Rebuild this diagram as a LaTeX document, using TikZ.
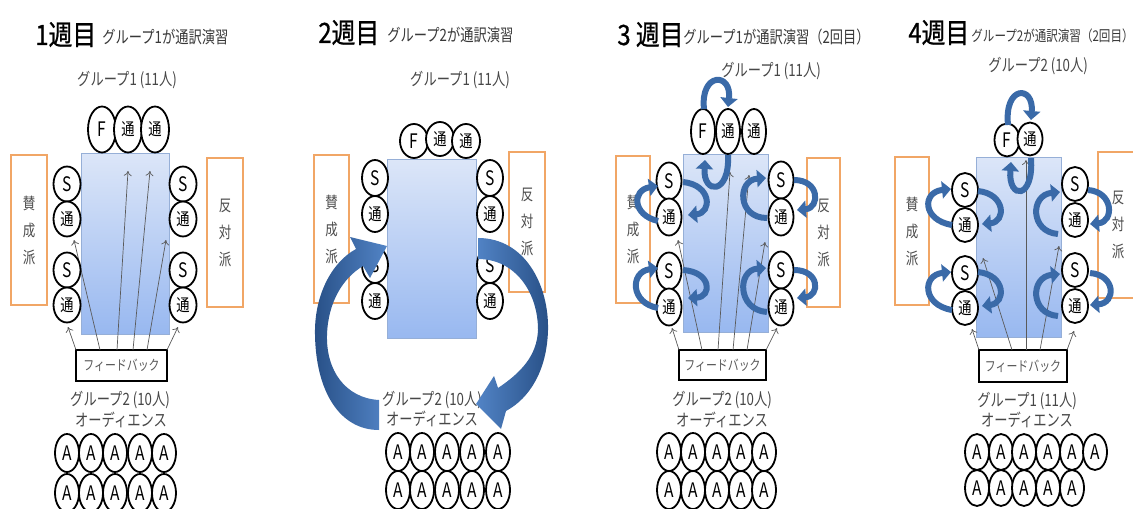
\documentclass[tikz,border=0pt]{standalone}
\usepackage{fontspec}
\usetikzlibrary{arrows.meta,shapes.geometric}
\newfontfamily\jpT[FakeStretch=0.85,FakeBold=0.8]{Noto Sans CJK JP}
\newfontfamily\jp[FakeStretch=0.78]{Noto Sans CJK JP}
\definecolor{rtop}{RGB}{220,230,248}
\definecolor{rbot}{RGB}{152,184,240}
\definecolor{redge}{RGB}{150,175,215}
\definecolor{orng}{RGB}{241,166,102}
\definecolor{ablue}{RGB}{58,106,168}
\definecolor{adark}{RGB}{40,80,135}
\definecolor{alight}{RGB}{82,132,198}
\definecolor{thinc}{RGB}{90,90,90}
\begin{document}
\begin{tikzpicture}[x=0.5pt,y=-0.5pt,
 pc/.style={draw, ellipse, line width=0.9pt, fill=white, inner sep=0pt, font=\jp\fontsize{8.5}{10}\selectfont},
 lt/.style={font=\jp\fontsize{10}{10}\selectfont},
 obox/.style={draw=orng, line width=0.9pt, fill=white, inner sep=0pt, align=center, font=\jp\fontsize{8}{13.5}\selectfont, text=black!70},
 rbox/.style={draw=redge, line width=0.4pt, top color=rtop, bottom color=rbot, inner sep=0pt},
 fbox/.style={draw, line width=1pt, fill=white, inner sep=0pt, font=\jp\fontsize{7}{8}\selectfont, text=black!65},
 lbl/.style={font=\jp\fontsize{8.5}{10}\selectfont, text=black!72, inner sep=0pt},
 ttl/.style={font=\jpT\fontsize{14}{16}\selectfont, anchor=base west, inner sep=0pt},
 sttl/.style={font=\jp\fontsize{8.5}{10}\selectfont, text=black!78, anchor=base west, inner sep=0pt},
 tarr/.style={draw=thinc, line width=0.35pt, -{To[length=2.5pt,width=4pt]}},
 sarr/.style={draw=ablue, line width=3pt, -{Triangle[length=4.5pt,width=8.5pt]}},
 ta/.style={pc, minimum width=14pt, minimum height=23pt},
 sa/.style={pc, minimum width=13.5pt, minimum height=17.5pt},
 tb/.style={pc, minimum width=14pt, minimum height=17pt},
 sb/.style={pc, minimum width=13pt, minimum height=18pt},
 tc/.style={pc, minimum width=12pt, minimum height=22.5pt},
 sc/.style={pc, minimum width=12.5pt, minimum height=18.5pt},
 td/.style={pc, minimum width=12.5pt, minimum height=16.5pt},
 sd/.style={pc, minimum width=13pt, minimum height=17pt},
 ac/.style={pc, lt, minimum width=12pt, minimum height=19pt},
 ad/.style={pc, lt, minimum width=12pt, minimum height=18pt},
]
\useasboundingbox (0,0) rectangle (1133,508);
\fill[white] (0,0) rectangle (1133,508);

% ---------- titles ----------
\node[ttl] (t1) at (35,45) {1週目};
\node[sttl] (s1) at (102,44) {グループ1が通訳演習};
\node[ttl] (t2) at (318,43) {2週目};
\node[sttl] (s2) at (387,42) {グループ2が通訳演習};
\node[ttl] (t3) at (617,45) {3 週目};
\node[sttl] (s3) at (683,44) {グループ1が通訳演習（2回目）};
\node[ttl] (t4) at (908,43) {4週目};
\node[sttl, font=\jp\fontsize{7.4}{9}\selectfont] (s4) at (971,42) {グループ2が通訳演習（2回目）};

% ================= PANEL 1 =================
\node[rbox, minimum width=44pt, minimum height=90.5pt] (p1R) at (125,243.5) {};
\node[lbl] (p1g1) at (127,80) {グループ1 (11人)};
\node[obox, minimum width=18pt, minimum height=75pt] (p1OL) at (29,230) {賛\\成\\派};
\node[obox, minimum width=18pt, minimum height=74.5pt] (p1OR) at (225,232.5) {反\\対\\派};
\node[fbox, minimum width=45.5pt, minimum height=15.5pt] (p1FB) at (121.5,365.5) {フィードバック};
\coordinate (p1f0) at (76,350); \coordinate (p1f1) at (100,350); \coordinate (p1f2) at (117,350);
\coordinate (p1f3) at (133,350); \coordinate (p1f4) at (147,350); \coordinate (p1f5) at (167,350);
\coordinate (p1h0) at (68,327); \coordinate (p1h1) at (74,240); \coordinate (p1h2) at (128,171);
\coordinate (p1h3) at (150,171); \coordinate (p1h4) at (166,240); \coordinate (p1h5) at (178,327);
\foreach \i in {0,...,5} {\draw[tarr] (p1f\i) -- (p1h\i);}
\node[ta,lt] (p1F) at (102,129.5) {F};
\node[ta] (p1T1) at (128,129.5) {通};
\node[ta] (p1T2) at (155,129.5) {通};
\node[sa,lt] (p1LS1) at (67,184) {S};
\node[sa] (p1LT1) at (67,219) {通};
\node[sa,lt] (p1LS2) at (67,270) {S};
\node[sa] (p1LT2) at (67,305) {通};
\node[sa,lt] (p1RS1) at (183,184) {S};
\node[sa] (p1RT1) at (183,219) {通};
\node[sa,lt] (p1RS2) at (183,270) {S};
\node[sa] (p1RT2) at (183,305) {通};
\node[lbl] (p1g2) at (120,400) {グループ2 (10人)};
\node[lbl] (p1au) at (121,420) {オーディエンス};
\foreach \i/\x in {1/67,2/91,3/115,4/140,5/164} {
  \node[ac] (p1A\i) at (\x,453) {A};
  \node[ac] (p1B\i) at (\x,493) {A};
}

% ================= PANEL 2 =================
\node[rbox, minimum width=44.5pt, minimum height=89.5pt] (p2R) at (431.5,248.5) {};
\node[lbl] (p2g1) at (460,80) {グループ1 (11人)};
\node[obox, minimum width=17.5pt, minimum height=74pt] (p2OL) at (331.5,229) {賛\\成\\派};
\node[obox, minimum width=18pt, minimum height=70pt] (p2OR) at (527,222) {反\\対\\派};
\node[tb,lt] (p2F) at (414,141) {F};
\node[tb] (p2T1) at (440,139) {通};
\node[tb] (p2T2) at (466,141) {通};
\node[sb,lt] (p2LS1) at (375,178) {S};
\node[sb] (p2LT1) at (375,214) {通};
\node[sb,lt] (p2LS2) at (375,265) {S};
\node[sb] (p2LT2) at (375,301) {通};
\node[sb,lt] (p2RS1) at (490,178) {S};
\node[sb] (p2RT1) at (490,214) {通};
\node[sb,lt] (p2RS2) at (490,265) {S};
\node[sb] (p2RT2) at (490,301) {通};
\node[lbl] (p2g2) at (432,400) {グループ2 (10人)};
\node[lbl] (p2au) at (432,419) {オーディエンス};
\foreach \i/\x in {1/398,2/422,3/447,4/472,5/498} {
  \node[ac] (p2A\i) at (\x,452) {A};
  \node[ac] (p2B\i) at (\x,490) {A};
}
% big curved arrows
\shade[left color=adark, right color=alight]
  (379,400) .. controls (345,398) and (326,370) .. (327,335)
  .. controls (328,302) and (343,278) .. (363,266)
  -- (370,278) -- (387,246) -- (350,237) -- (356,249)
  .. controls (332,262) and (314,295) .. (315,335)
  .. controls (316,392) and (340,430) .. (379,430) -- cycle;
\shade[left color=alight, right color=adark]
  (478,238) .. controls (525,238) and (549,285) .. (548,330)
  .. controls (547,370) and (530,398) .. (506,411)
  -- (501,429) -- (476,404) -- (494,376) -- (498,388)
  .. controls (522,372) and (537,355) .. (538,330)
  .. controls (538,292) and (515,259) .. (478,259) -- cycle;

% ================= PANEL 3 =================
\node[rbox, minimum width=42.5pt, minimum height=89pt] (p3R) at (725.5,243) {};
\node[lbl] (p3g1) at (771,71) {グループ1 (11人)};
\node[obox, minimum width=17pt, minimum height=73.5pt] (p3OL) at (633,229.5) {賛\\成\\派};
\node[obox, minimum width=16.5pt, minimum height=74.5pt] (p3OR) at (823.5,232.5) {反\\対\\派};
\node[fbox, minimum width=43.5pt, minimum height=15pt] (p3FB) at (722.5,365) {フィードバック};
\coordinate (p3f0) at (679,350); \coordinate (p3f1) at (702,350); \coordinate (p3f2) at (718,350);
\coordinate (p3f3) at (733,350); \coordinate (p3f4) at (747,350); \coordinate (p3f5) at (766,350);
\coordinate (p3h0) at (672,328); \coordinate (p3h1) at (678,240); \coordinate (p3h2) at (730,172);
\coordinate (p3h3) at (749,175); \coordinate (p3h4) at (765,242); \coordinate (p3h5) at (777,328);
\foreach \i in {0,...,5} {\draw[tarr] (p3f\i) -- (p3h\i);}
\node[tc,lt] (p3F) at (703,131.5) {F};
\node[tc] (p3T1) at (728,131.5) {通};
\node[tc] (p3T2) at (754,131.5) {通};
\node[sc,lt] (p3LS1) at (669,181) {S};
\node[sc] (p3LT1) at (669,217) {通};
\node[sc,lt] (p3LS2) at (669,271) {S};
\node[sc] (p3LT2) at (669,307) {通};
\node[sc,lt] (p3RS1) at (781,180) {S};
\node[sc] (p3RT1) at (781,217) {通};
\node[sc,lt] (p3RS2) at (781,270) {S};
\node[sc] (p3RT2) at (781,307) {通};
\node[lbl] (p3g2) at (722,400) {グループ2 (10人)};
\node[lbl] (p3au) at (722,420) {オーディエンス};
\foreach \i/\x in {1/669,2/693,3/717,4/741,5/764} {
  \node[ac] (p3A\i) at (\x,452) {A};
  \node[ac] (p3B\i) at (\x,490) {A};
}
\draw[sarr] (p3F.north) ++(1,1) .. controls (700,72) and (732,72) .. (728,107);
\draw[sarr] (728,155) .. controls (730,195) and (703,195) .. (705,160);
\draw[sarr] (658,221) .. controls (632,215) and (632,190) .. (658,186);
\draw[sarr] (683,182) .. controls (712,185) and (712,213) .. (688,215);
\draw[sarr] (767,218) .. controls (737,218) and (737,180) .. (766,178);
\draw[sarr] (794,180) .. controls (820,180) and (820,208) .. (797,210);
\draw[sarr] (658,308) .. controls (630,303) and (630,272) .. (658,268);
\draw[sarr] (683,270) .. controls (712,272) and (712,297) .. (688,298);
\draw[sarr] (767,312) .. controls (737,310) and (737,270) .. (766,268);
\draw[sarr] (794,270) .. controls (820,270) and (820,296) .. (797,298);

% ================= PANEL 4 =================
\node[rbox, minimum width=42.5pt, minimum height=90pt] (p4R) at (1018.5,247) {};
\node[lbl] (p4g1) at (1038,66) {グループ2 (10人)};
\node[obox, minimum width=17pt, minimum height=74pt] (p4OL) at (912,231) {賛\\成\\派};
\node[obox, minimum width=20pt, minimum height=73pt] (p4OR) at (1118,225) {反\\対\\派};
\node[fbox, minimum width=44pt, minimum height=16pt] (p4FB) at (1023,366) {フィードバック};
\coordinate (p4f0) at (979,350); \coordinate (p4f1) at (1012,350); \coordinate (p4f2) at (1026,350);
\coordinate (p4f3) at (1040,350); \coordinate (p4f4) at (1067,350);
\coordinate (p4h0) at (972,329); \coordinate (p4h1) at (983,258); \coordinate (p4h2) at (1026,160);
\coordinate (p4h3) at (1059,246); \coordinate (p4h4) at (1074,331);
\foreach \i in {0,...,4} {\draw[tarr] (p4f\i) -- (p4h\i);}
\node[td,lt] (p4F) at (1007,140) {F};
\node[td] (p4T1) at (1030,139) {通};
\node[sd,lt] (p4LS1) at (965,190) {S};
\node[sd] (p4LT1) at (965,225) {通};
\node[sd,lt] (p4LS2) at (965,273) {S};
\node[sd] (p4LT2) at (965,308) {通};
\node[sd,lt] (p4RS1) at (1075,184) {S};
\node[sd] (p4RT1) at (1075,220) {通};
\node[sd,lt] (p4RS2) at (1075,270) {S};
\node[sd] (p4RT2) at (1075,306) {通};
\node[lbl] (p4g2) at (1027,401) {グループ1 (11人)};
\node[lbl] (p4au) at (1027,420) {オーディエンス};
\foreach \i/\x in {1/977,2/1001,3/1024,4/1048,5/1072,6/1095} {
  \node[ad] (p4A\i) at (\x,452) {A};
}
\foreach \i/\x in {1/977,2/1001,3/1024,4/1048,5/1072} {
  \node[ad] (p4B\i) at (\x,488) {A};
}
\draw[sarr] (1008,125) .. controls (1004,85) and (1034,85) .. (1031,120);
\draw[sarr] (1031,158) .. controls (1034,200) and (1008,200) .. (1011,162);
\draw[sarr] (952,225) .. controls (922,220) and (922,192) .. (951,189);
\draw[sarr] (978,191) .. controls (1006,194) and (1006,222) .. (982,224);
\draw[sarr] (1058,234) .. controls (1030,232) and (1030,195) .. (1060,192);
\draw[sarr] (1088,190) .. controls (1114,192) and (1114,222) .. (1090,224);
\draw[sarr] (952,310) .. controls (922,305) and (922,275) .. (951,272);
\draw[sarr] (978,272) .. controls (1006,275) and (1006,303) .. (982,306);
\draw[sarr] (1058,316) .. controls (1030,314) and (1030,277) .. (1060,274);
\draw[sarr] (1090,273) .. controls (1116,275) and (1116,303) .. (1090,305);
\end{tikzpicture}
\end{document}
